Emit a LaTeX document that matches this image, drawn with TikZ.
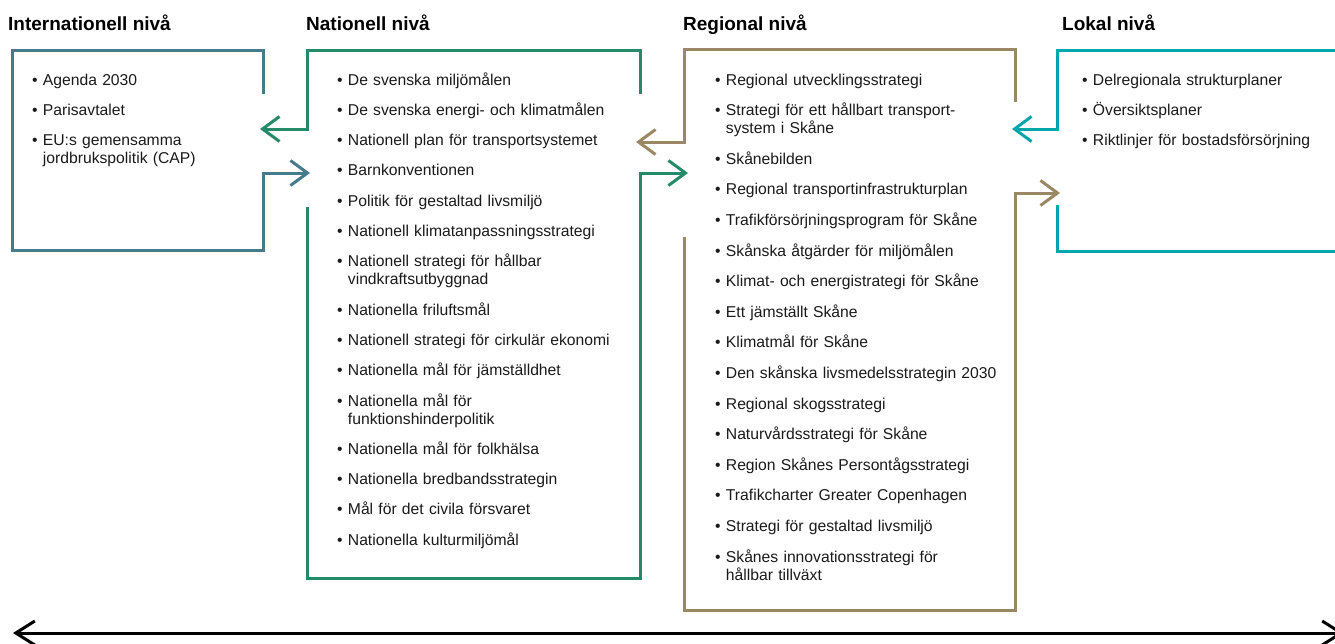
\documentclass[tikz,border=0pt]{standalone}
\usepackage{fontspec}
\setmainfont{Liberation Sans}
\usetikzlibrary{arrows.meta}
\definecolor{cint}{HTML}{467B8C}
\definecolor{cnat}{HTML}{258A68}
\definecolor{creg}{HTML}{9A8763}
\definecolor{clok}{HTML}{00A6A9}
\definecolor{ctext}{HTML}{1A1A1A}
\newcommand\bitem[1]{\setbox0\hbox{\textbullet\ }\hangindent=\wd0\relax\noindent\box0 #1\par}
\tikzset{
  frame/.style={line width=3pt, line join=miter},
  barb/.style={-{Straight Barb[length=17pt,width=25pt]}},
  leveltitle/.style={anchor=base west, inner sep=0pt, font=\fontsize{19}{22}\selectfont\bfseries},
  itemlist/.style={anchor=base west, inner sep=0pt, text width=#1, text=ctext,
    font=\fontsize{15.7}{18}\selectfont, align=left},
}
\begin{document}
\begin{tikzpicture}[x=1pt,y=-1pt]
\useasboundingbox (0,0) rectangle (1335,643);
% titles
\node[leveltitle] (tint) at (8,30) {Internationell nivå};
\node[leveltitle] (tnat) at (306,30) {Nationell nivå};
\node[leveltitle] (treg) at (683,30) {Regional nivå};
\node[leveltitle] (tlok) at (1062,30) {Lokal nivå};
% lists
\node[itemlist=220pt] (lint) at (32,85) {\setlength\parskip{12pt}%
\bitem{Agenda 2030}
\bitem{Parisavtalet}
\bitem{EU:s gemensamma\newline jordbrukspolitik (CAP)}};
\node[itemlist=300pt] (lnat) at (337,85) {\setlength\parskip{12.3pt}%
\bitem{De svenska miljömålen}
\bitem{De svenska energi- och klimatmålen}
\bitem{Nationell plan för transportsystemet}
\bitem{Barnkonventionen}
\bitem{Politik för gestaltad livsmiljö}
\bitem{Nationell klimatanpassningsstrategi}
\bitem{Nationell strategi för hållbar\newline vindkraftsutbyggnad}
\bitem{Nationella friluftsmål}
\bitem{Nationell strategi för cirkulär ekonomi}
\bitem{Nationella mål för jämställdhet}
\bitem{Nationella mål för\newline funktionshinderpolitik}
\bitem{Nationella mål för folkhälsa}
\bitem{Nationella bredbandsstrategin}
\bitem{Mål för det civila försvaret}
\bitem{Nationella kulturmiljömål}};
\node[itemlist=300pt] (lreg) at (715,85) {\setlength\parskip{12.6pt}%
\bitem{Regional utvecklingsstrategi}
\bitem{Strategi för ett hållbart transport-\newline system i Skåne}
\bitem{Skånebilden}
\bitem{Regional transportinfrastrukturplan}
\bitem{Trafikförsörjningsprogram för Skåne}
\bitem{Skånska åtgärder för miljömålen}
\bitem{Klimat- och energistrategi för Skåne}
\bitem{Ett jämställt Skåne}
\bitem{Klimatmål för Skåne}
\bitem{Den skånska livsmedelsstrategin 2030}
\bitem{Regional skogsstrategi}
\bitem{Naturvårdsstrategi för Skåne}
\bitem{Region Skånes Persontågsstrategi}
\bitem{Trafikcharter Greater Copenhagen}
\bitem{Strategi för gestaltad livsmiljö}
\bitem{Skånes innovationsstrategi för\newline hållbar tillväxt}};
\node[itemlist=250pt] (llok) at (1082,85) {\setlength\parskip{12pt}%
\bitem{Delregionala strukturplaner}
\bitem{Översiktsplaner}
\bitem{Riktlinjer för bostadsförsörjning}};
% coordinates
\coordinate (i1) at (263,94);  \coordinate (i2) at (263,50);  \coordinate (i3) at (12,50);
\coordinate (i4) at (12,250);  \coordinate (i5) at (263,250); \coordinate (i6) at (263,173);
\coordinate (itip) at (310,173);
\coordinate (n1) at (640,94);  \coordinate (n2) at (640,50);  \coordinate (n3) at (307,50);
\coordinate (n4) at (307,129); \coordinate (ntipl) at (260,129);
\coordinate (n5) at (307,207); \coordinate (n6) at (307,578); \coordinate (n7) at (640,578);
\coordinate (n8) at (640,173); \coordinate (ntipr) at (688,173);
\coordinate (r1) at (1015,102); \coordinate (r2) at (1015,49); \coordinate (r3) at (684,49);
\coordinate (r4) at (684,142);  \coordinate (rtipl) at (636,142);
\coordinate (r5) at (684,237);  \coordinate (r6) at (684,610); \coordinate (r7) at (1015,610);
\coordinate (r8) at (1015,193); \coordinate (rtipr) at (1060,193);
\coordinate (l1) at (1345,50);  \coordinate (l2) at (1057,50); \coordinate (l3) at (1057,129);
\coordinate (ltip) at (1012,129);
\coordinate (l4) at (1057,205); \coordinate (l5) at (1057,251); \coordinate (l6) at (1345,251);
\coordinate (bl) at (13,633); \coordinate (br) at (1344,633);
% frames
\draw[frame, cint, barb] (i1) -- (i2) -- (i3) -- (i4) -- (i5) -- (i6) -- (itip);
\draw[frame, cnat, barb] (n1) -- (n2) -- (n3) -- (n4) -- (ntipl);
\draw[frame, cnat, barb] (n5) -- (n6) -- (n7) -- (n8) -- (ntipr);
\draw[frame, creg, barb] (r1) -- (r2) -- (r3) -- (r4) -- (rtipl);
\draw[frame, creg, barb] (r5) -- (r6) -- (r7) -- (r8) -- (rtipr);
\draw[frame, clok, barb] (l1) -- (l2) -- (l3) -- (ltip);
\draw[frame, clok] (l4) -- (l5) -- (l6);
\draw[line width=3pt, {Straight Barb[length=19pt,width=24pt]}-{Straight Barb[length=19pt,width=24pt]}] (bl) -- (br);
\end{tikzpicture}
\end{document}
